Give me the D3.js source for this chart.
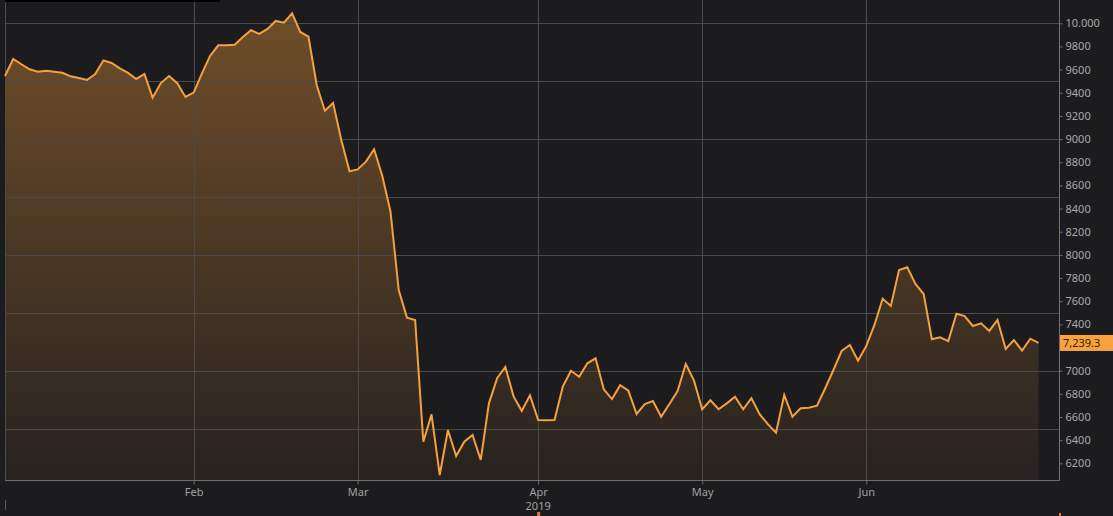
<!DOCTYPE html>
<html>
<head>
<meta charset="utf-8">
<script src="https://cdn.jsdelivr.net/npm/d3@7"></script>
<style>
  html, body { margin: 0; padding: 0; background: #1c1c1e; }
  svg { display: block; }
  text { font-family: "Noto Sans", "Open Sans", sans-serif; }
</style>
</head>
<body>
<svg id="chart" width="1113" height="516"></svg>
<script>
// ---- data (trading-day index 0..126, Jan–Jun 2019) ----
const values = [
  9545, 9692, 9646, 9603, 9582, 9591, 9582, 9573, 9542, 9528,
  9510, 9562, 9680, 9657, 9611, 9571, 9519, 9562, 9358, 9484,
  9545, 9482, 9364, 9401, 9565, 9718, 9810, 9810, 9815, 9882,
  9940, 9908, 9951, 10020, 10005, 10086, 9925, 9884, 9467, 9245,
  9312, 8992, 8722, 8738, 8805, 8912, 8681, 8373, 7697, 7458,
  7438, 6387, 6623, 6099, 6488, 6263, 6387, 6445, 6229, 6718,
  6936, 7032, 6778, 6653, 6788, 6574, 6571, 6574, 6862, 7000,
  6948, 7064, 7107, 6839, 6755, 6874, 6827, 6626, 6712, 6738,
  6603, 6712, 6824, 7058, 6914, 6667, 6744, 6667, 6718, 6775,
  6667, 6762, 6625, 6538, 6464, 6790, 6603, 6675, 6680, 6698,
  6848, 7006, 7170, 7222, 7086, 7213, 7395, 7622, 7559, 7870,
  7893, 7749, 7662, 7271, 7288, 7256, 7492, 7472, 7386, 7409,
  7343, 7438, 7187, 7265, 7173, 7276, 7239.3
];
const monthLabels = ["Feb", "Mar", "Apr", "May", "Jun"];
const monthIndex  = [23, 43, 65, 85, 105];
const yearLabel = "2019";
const yearLabelMonth = "Apr";
const yTickValues = [6200, 6400, 6600, 6800, 7000, 7200, 7400, 7600, 7800, 8000,
                     8200, 8400, 8600, 8800, 9000, 9200, 9400, 9600, 9800, 10000];
const yTickLabels = ["6200", "6400", "6600", "6800", "7000", "7200", "7400", "7600", "7800", "8000",
                     "8200", "8400", "8600", "8800", "9000", "9200", "9400", "9600", "9800", "10.000"];
const yGridValues = [6500, 7000, 7500, 8000, 8500, 9000, 9500, 10000];
const lastLabel = "7,239.3";

// ---- layout ----
const W = 1113, H = 516;
const pLeft = 5, pRight = 1059, pTop = 0, pBottom = 480;
const svg = d3.select("#chart");

svg.append("rect").attr("width", W).attr("height", H).attr("fill", "#1c1c1e");

const x = d3.scaleLinear().domain([0, 128.5]).range([pLeft, pRight]);
const y = d3.scaleLinear().domain([6056, 10201]).range([pBottom, pTop]);

// gradient for area
const defs = svg.append("defs");
const grad = defs.append("linearGradient")
  .attr("id", "areaGrad").attr("gradientUnits", "userSpaceOnUse")
  .attr("x1", 0).attr("y1", pTop).attr("x2", 0).attr("y2", pBottom);
grad.append("stop").attr("offset", "0%").attr("stop-color", "#f29b3a").attr("stop-opacity", 0.40);
grad.append("stop").attr("offset", "100%").attr("stop-color", "#f29b3a").attr("stop-opacity", 0.05);

// area
const area = d3.area()
  .x((d, i) => x(i))
  .y0(pBottom)
  .y1(d => y(d));
svg.append("path").datum(values).attr("d", area).attr("fill", "url(#areaGrad)");

// grid lines
const grid = svg.append("g");
grid.selectAll("line.h").data(yGridValues).join("line")
  .attr("x1", pLeft).attr("x2", pRight)
  .attr("y1", d => Math.round(y(d)) + 0.5).attr("y2", d => Math.round(y(d)) + 0.5)
  .attr("stroke", "#4a4a4c").attr("stroke-width", 1);
grid.selectAll("line.v").data(monthIndex).join("line")
  .attr("x1", d => Math.round(x(d)) + 0.5).attr("x2", d => Math.round(x(d)) + 0.5)
  .attr("y1", pTop).attr("y2", pBottom)
  .attr("stroke", "#4a4a4c").attr("stroke-width", 1);
// left border
svg.append("line").attr("x1", pLeft + 0.5).attr("x2", pLeft + 0.5)
  .attr("y1", pTop).attr("y2", pBottom).attr("stroke", "#4a4a4c");

// line
const line = d3.line().x((d, i) => x(i)).y(d => y(d));
svg.append("path").datum(values).attr("d", line)
  .attr("fill", "none").attr("stroke", "#f5a03e").attr("stroke-width", 2)
  .attr("stroke-linejoin", "miter");

// last value (for hiding the covered tick label)
const lastVal = values[values.length - 1];
const lastY = y(lastVal);

// right axis
const yAxis = d3.axisRight(y).tickValues(yTickValues)
  .tickFormat((d, i) => yTickLabels[i]).tickSize(3).tickPadding(3);
const gy = svg.append("g").attr("transform", `translate(${pRight + 0.5},0)`).call(yAxis);
gy.select(".domain").attr("stroke", "#707072").attr("d", `M0,${pTop}V${pBottom + 0.5}`);
gy.selectAll(".tick line").attr("stroke", "#707072");
gy.selectAll(".tick text").attr("fill", "#a8a8a8").attr("font-size", 11)
  .attr("font-family", "'Noto Sans', sans-serif");
// the label underneath the value box is covered in the original
gy.selectAll(".tick").filter(d => Math.abs(y(d) - lastY) < 10).select("text").remove();

// bottom axis
const xAxis = d3.axisBottom(x).tickValues(monthIndex)
  .tickFormat((d, i) => monthLabels[i]).tickSize(4).tickPadding(4);
const gx = svg.append("g").attr("transform", `translate(0,${pBottom + 0.5})`).call(xAxis);
gx.select(".domain").attr("stroke", "#707072").attr("d", `M${pLeft},0H${pRight + 0.5}`);
gx.selectAll(".tick line").attr("stroke", "#707072");
gx.selectAll(".tick text").attr("fill", "#a0a0a0").attr("font-size", 11)
  .attr("font-family", "'Noto Sans', sans-serif");
const yi = monthIndex[monthLabels.indexOf(yearLabelMonth)];
svg.append("text").attr("x", x(yi)).attr("y", 510).attr("text-anchor", "middle")
  .attr("fill", "#a0a0a0").attr("font-size", 11).text(yearLabel);

// last value label
svg.append("rect").attr("x", pRight + 1).attr("y", lastY - 8).attr("width", W - pRight - 1).attr("height", 16)
  .attr("fill", "#f7a23e");
svg.append("text").attr("x", pRight + 4).attr("y", lastY + 4)
  .attr("fill", "#3a1c00").attr("font-size", 11).text(lastLabel);

// top-left dark bar & small navigator marks
svg.append("rect").attr("x", pLeft).attr("y", 0).attr("width", 215).attr("height", 2).attr("fill", "#000");
svg.append("rect").attr("x", x(yi) - 1).attr("y", 512).attr("width", 3).attr("height", 4).attr("fill", "#d9783a");
svg.append("rect").attr("x", pRight).attr("y", 513).attr("width", 2).attr("height", 3).attr("fill", "#d9783a");
svg.append("line").attr("x1", pLeft + 0.5).attr("x2", pLeft + 0.5).attr("y1", 500).attr("y2", 510)
  .attr("stroke", "#555");
</script>
</body>
</html>
